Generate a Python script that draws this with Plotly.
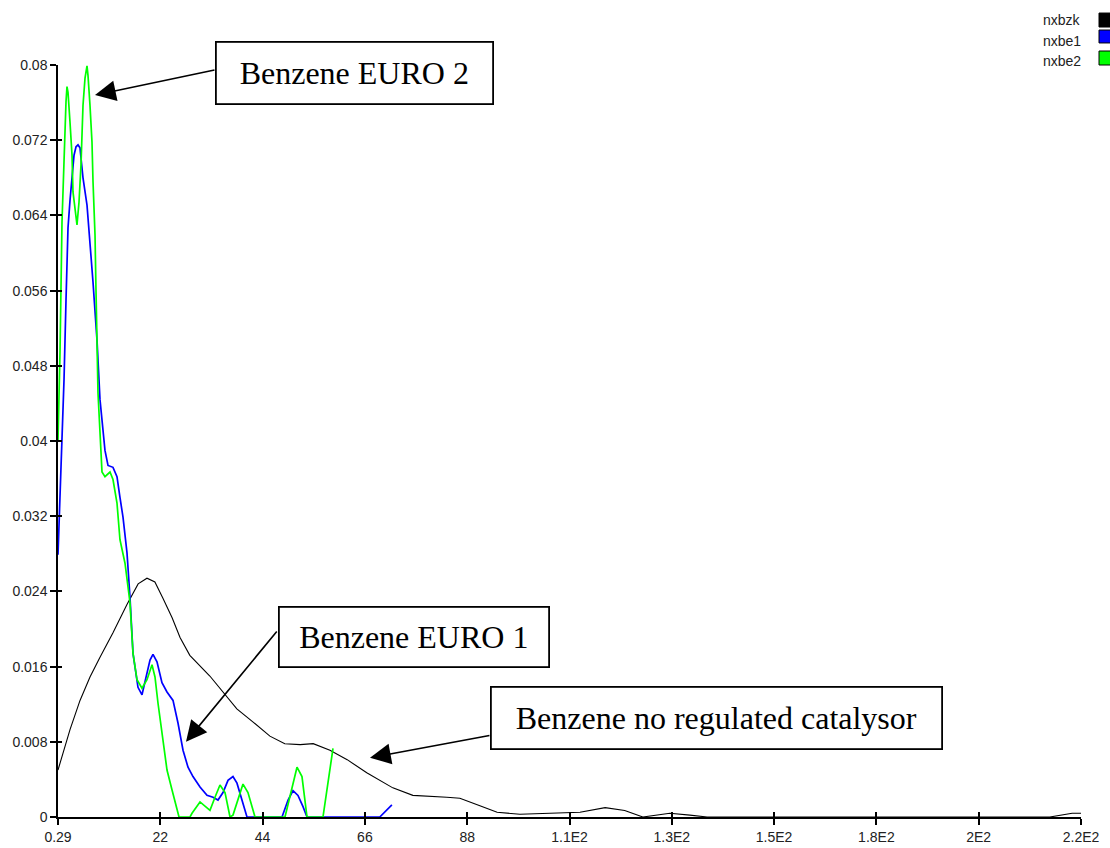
import plotly.graph_objects as go

# ---------------- data ----------------
bzk_x = [0.29, 2.87, 5.02, 7.16, 9.31, 12.1, 15.1, 17.5, 19.4, 21.1, 22.8, 24.8, 26.5, 28.6,
         32.9, 35.7, 38.7, 42.2, 45.8, 49.0, 52.3, 55.1, 58.7, 62.4, 66.6, 72.2, 76.5, 83.8,
         86.6, 90.9, 94.6, 99.5, 106.6, 112.4, 117.8, 122.0, 125.9, 128.9, 131.7, 136.0,
         139.7, 213.3, 215.5, 218.1, 220.0]
bzk_y = [0.0050, 0.0093, 0.0124, 0.0149, 0.0170, 0.0196, 0.0226, 0.0248, 0.0254, 0.0250,
         0.0233, 0.0212, 0.0191, 0.0172, 0.0150, 0.0133, 0.0115, 0.0101, 0.0086, 0.0078,
         0.0077, 0.0078, 0.0071, 0.0061, 0.0047, 0.0031, 0.0023, 0.0021, 0.0020, 0.0012,
         0.0005, 0.0003, 0.0004, 0.0005, 0.0010, 0.0007, 0.0000, 0.0002, 0.0004, 0.0002,
         0.0000, 0.0000, 0.0002, 0.0004, 0.0004]

be1_x = [0.29, 0.72, 1.15, 1.58, 2.01, 2.44, 2.87, 3.30, 3.73, 4.16, 4.59, 5.01, 5.66, 6.52,
         7.16, 7.81, 8.67, 9.31, 10.38, 11.03, 12.1, 12.96, 13.6, 14.25, 15.11, 15.75, 16.4,
         17.47, 18.33, 18.97, 20.05, 20.69, 21.55, 22.62, 23.7, 24.99, 26.06, 27.14, 28.21,
         29.28, 30.79, 32.29, 33.58, 34.65, 35.73, 36.8, 37.87, 38.73, 39.81, 40.88, 48.4,
         49.7, 50.76, 51.83, 52.91, 53.77, 69.4, 72.0]
be1_y = [0.0279, 0.0337, 0.0398, 0.0465, 0.0550, 0.0627, 0.0656, 0.0678, 0.0704, 0.0713,
         0.0715, 0.0712, 0.0680, 0.0651, 0.0612, 0.0569, 0.0507, 0.0444, 0.0390, 0.0374,
         0.0372, 0.0362, 0.0340, 0.0319, 0.0281, 0.0234, 0.0174, 0.0138, 0.0130, 0.0143,
         0.0167, 0.0173, 0.0165, 0.0143, 0.0133, 0.0124, 0.0100, 0.0071, 0.0053, 0.0043,
         0.0032, 0.0023, 0.0021, 0.0018, 0.0026, 0.0039, 0.0043, 0.0036, 0.0018, 0.0000,
         0.0000, 0.0018, 0.0028, 0.0023, 0.0011, 0.0000, 0.0000, 0.0013]

be2_x = [0.29, 0.72, 1.15, 1.58, 2.01, 2.22, 2.44, 2.87, 3.30, 3.51, 4.16, 4.37, 4.80, 5.23,
         5.66, 6.09, 6.52, 6.73, 7.16, 7.59, 7.81, 8.24, 8.45, 8.67, 8.88, 9.31, 9.74, 10.38,
         11.46, 12.1, 12.96, 13.6, 14.68, 15.32, 15.75, 16.4, 17.26, 18.33, 19.4, 20.48,
         21.12, 21.77, 22.84, 23.7, 24.77, 25.85, 26.28, 28.64, 29.07, 30.79, 31.86, 32.93,
         34.01, 35.08, 36.16, 37.23, 37.87, 38.73, 40.02, 41.09, 42.6, 49.04, 50.54, 51.62,
         52.69, 53.77, 57.2, 58.28, 59.35]
be2_y = [0.0401, 0.0494, 0.0633, 0.0704, 0.0761, 0.0777, 0.0771, 0.0739, 0.0704, 0.0665,
         0.0637, 0.0630, 0.0654, 0.0694, 0.0757, 0.0786, 0.0799, 0.0789, 0.0757, 0.0718,
         0.0676, 0.0619, 0.0561, 0.0494, 0.0451, 0.0409, 0.0367, 0.0362, 0.0367, 0.0359,
         0.0334, 0.0295, 0.0270, 0.0245, 0.0228, 0.0174, 0.0146, 0.0137, 0.0146, 0.0162,
         0.0149, 0.0121, 0.0079, 0.0050, 0.0029, 0.0007, 0.0000, 0.0000, 0.0004, 0.0016,
         0.0011, 0.0007, 0.0021, 0.0034, 0.0026, 0.0000, 0.0002, 0.0015, 0.0035, 0.0026,
         0.0000, 0.0000, 0.0032, 0.0053, 0.0043, 0.0000, 0.0000, 0.0036, 0.0073]

series_names = ["nxbzk", "nxbe1", "nxbe2"]
series_colors = ["#000000", "#0000FF", "#00FF00"]

x_tick_vals = [0.29, 22.26, 44.23, 66.2, 88.17, 110.15, 132.12, 154.09, 176.06, 198.03, 220.0]
x_tick_text = ["0.29", "22", "44", "66", "88", "1.1E2", "1.3E2", "1.5E2", "1.8E2", "2E2", "2.2E2"]
y_tick_vals = [0, 0.008, 0.016, 0.024, 0.032, 0.04, 0.048, 0.056, 0.064, 0.072, 0.08]
y_tick_text = ["0", "0.008", "0.016", "0.024", "0.032", "0.04", "0.048", "0.056", "0.064", "0.072", "0.08"]

x_range = [0.29, 220.0]
y_range = [0.0, 0.08]

# ---------------- figure ----------------
fig = go.Figure()
for xs, ys, name, col, w in [(bzk_x, bzk_y, series_names[0], series_colors[0], 1.1),
                             (be1_x, be1_y, series_names[1], series_colors[1], 1.7),
                             (be2_x, be2_y, series_names[2], series_colors[2], 1.7)]:
    fig.add_trace(go.Scatter(x=xs, y=ys, mode="lines", name=name,
                             line=dict(color=col, width=w), showlegend=False))

# dummy trace for the overlay axes (inside half of crossing ticks)
fig.add_trace(go.Scatter(x=[None], y=[None], xaxis="x2", yaxis="y2",
                         showlegend=False, hoverinfo="skip"))

tick_font = dict(family="Liberation Sans, Arial, sans-serif", size=14, color="#222222")

fig.update_layout(
    width=1110, height=848,
    margin=dict(l=58, r=29, t=65, b=31, autoexpand=False),
    paper_bgcolor="white", plot_bgcolor="white",
    xaxis=dict(range=x_range, tickmode="array", tickvals=x_tick_vals, ticktext=x_tick_text,
               showgrid=False, zeroline=False, showline=True, linecolor="black", linewidth=1.5,
               ticks="outside", ticklen=6, tickwidth=1.5, tickcolor="black",
               tickfont=tick_font, fixedrange=True, automargin=False),
    yaxis=dict(range=y_range, tickmode="array", tickvals=y_tick_vals, ticktext=y_tick_text,
               showgrid=False, zeroline=False, showline=True, linecolor="black", linewidth=1.5,
               ticks="outside", ticklen=6, tickwidth=1.5, tickcolor="black",
               tickfont=tick_font, fixedrange=True, automargin=False),
    xaxis2=dict(range=x_range, overlaying="x", anchor="y2", side="bottom",
                tickmode="array", tickvals=x_tick_vals, showticklabels=False,
                showgrid=False, zeroline=False, showline=False, automargin=False,
                ticks="inside", ticklen=5, tickwidth=1.5, tickcolor="black"),
    yaxis2=dict(range=y_range, overlaying="y", anchor="x2", side="left",
                tickmode="array", tickvals=y_tick_vals, showticklabels=False,
                showgrid=False, zeroline=False, showline=False, automargin=False,
                ticks="inside", ticklen=4, tickwidth=1.5, tickcolor="black"),
    showlegend=False,
)

# ---------------- callout boxes ----------------
box_font = dict(family="Liberation Serif, Times New Roman, serif", size=32, color="black")
boxes = [
    ("Benzene EURO 2", 64.07, 0.0792, 275, 60),
    ("Benzene EURO 1", 76.64, 0.0192, 268, 58),
    ("Benzene no regulated catalysor", 141.82, 0.01048, 449, 60),
]
for txt, bx, by, bw, bh in boxes:
    fig.add_annotation(x=bx, y=by, xref="x", yref="y", text=txt, showarrow=False,
                       font=box_font, bgcolor="white", bordercolor="black", borderwidth=1.8,
                       borderpad=0, width=bw, height=bh, align="center", valign="middle")

arrows = [  # (tip x, tip y, tail x, tail y)
    (8.24, 0.0768, 34.22, 0.0795),
    (27.78, 0.0080, 47.54, 0.0199),
    (67.3, 0.0063, 93.28, 0.0087),
]
for hx, hy, tx, ty in arrows:
    fig.add_annotation(x=hx, y=hy, xref="x", yref="y", ax=tx, ay=ty, axref="x", ayref="y",
                       text="", showarrow=True, arrowhead=2, arrowsize=2.6, arrowwidth=1.6,
                       arrowcolor="black", standoff=0)

# ---------------- legend (text left of swatch) ----------------
legend_y = [1.0598, 1.0319, 1.0053]
swatch_y = [(1.0505, 1.0691), (1.0293, 1.0465), (1.0000, 1.0186)]
for name, col, ly, (y0, y1) in zip(series_names, series_colors, legend_y, swatch_y):
    fig.add_annotation(x=1.0020, y=ly, xref="paper", yref="paper", text=name, showarrow=False,
                       xanchor="right", yanchor="middle",
                       font=dict(family="Liberation Sans, Arial, sans-serif", size=14, color="#222222"))
    fig.add_shape(type="rect", xref="paper", yref="paper", x0=1.0176, x1=1.0303, y0=y0, y1=y1,
                  fillcolor=col, line=dict(color="black", width=1))

fig.write_html("out.html", config={"displayModeBar": False},
               post_script="document.body.style.margin='0';document.body.style.overflow='hidden';")
